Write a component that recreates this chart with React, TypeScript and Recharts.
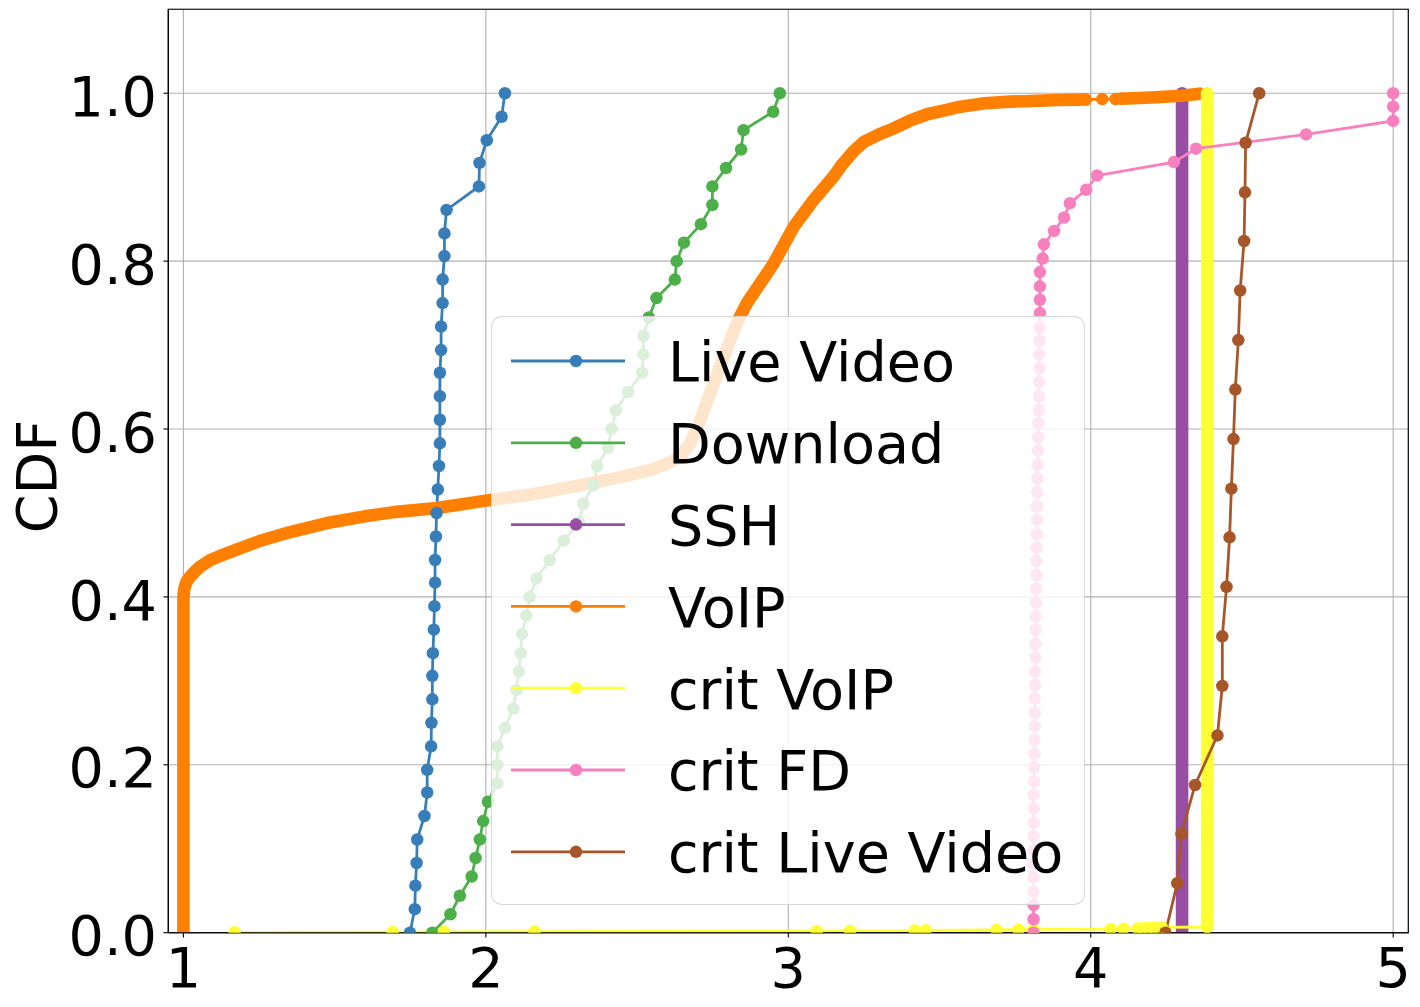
import React from 'react';
import { ComposedChart, Line, XAxis, YAxis, CartesianGrid, ReferenceArea } from 'recharts';

// ---------- axes ----------
const xTicks = [1, 2, 3, 4, 5];
const yTicks = [0, 0.2, 0.4, 0.6, 0.8, 1.0];
const yTickLabels = ['0.0', '0.2', '0.4', '0.6', '0.8', '1.0'];

// ---------- series names / colours ----------
const seriesNames = ['Live Video', 'Download', 'SSH', 'VoIP', 'crit VoIP', 'crit FD', 'crit Live Video'];
const seriesColors = ['#377eb8', '#4daf4a', '#984ea3', '#ff7f00', '#ffff33', '#f781bf', '#a65628'];

// ---------- Live Video ----------
const liveVideoX = [1.749, 1.765, 1.767, 1.771, 1.773, 1.797, 1.806, 1.806, 1.819, 1.820, 1.823, 1.823, 1.825,
  1.828, 1.830, 1.832, 1.832, 1.835, 1.837, 1.841, 1.845, 1.848, 1.848, 1.848, 1.848, 1.852, 1.852, 1.857,
  1.857, 1.863, 1.863, 1.870, 1.977, 1.979, 2.003, 2.052, 2.063];
const liveVideoY = [0, 0.028, 0.056, 0.083, 0.111, 0.139, 0.167, 0.194, 0.222, 0.25, 0.278, 0.306, 0.333,
  0.361, 0.389, 0.417, 0.444, 0.472, 0.5, 0.528, 0.556, 0.583, 0.611, 0.639, 0.667, 0.694, 0.722, 0.75,
  0.778, 0.806, 0.833, 0.861, 0.889, 0.917, 0.944, 0.972, 1.0];

// ---------- Download ----------
const downloadX = [1.823, 1.883, 1.914, 1.953, 1.966, 1.980, 1.991, 2.007, 2.038, 2.038, 2.038, 2.063, 2.091,
  2.101, 2.109, 2.115, 2.120, 2.134, 2.145, 2.167, 2.211, 2.258, 2.308, 2.322, 2.355, 2.368, 2.404, 2.416,
  2.430, 2.470, 2.517, 2.521, 2.521, 2.539, 2.564, 2.625, 2.631, 2.655, 2.711, 2.749, 2.749, 2.794, 2.844,
  2.852, 2.950, 2.972];
const downloadY = [0, 0.022, 0.044, 0.067, 0.089, 0.111, 0.133, 0.156, 0.178, 0.2, 0.222, 0.244, 0.267,
  0.289, 0.311, 0.333, 0.356, 0.378, 0.4, 0.422, 0.444, 0.467, 0.489, 0.511, 0.533, 0.556, 0.578, 0.6,
  0.622, 0.644, 0.667, 0.689, 0.711, 0.733, 0.756, 0.778, 0.8, 0.822, 0.844, 0.867, 0.889, 0.911, 0.933,
  0.956, 0.978, 1.0];

// ---------- SSH (dense markers, drawn as a solid bar) ----------
const sshX = [4.302, 4.302];
const sshY = [0, 1.0];

// ---------- VoIP (dense) ----------
const voipBandX = [1.0, 1.0, 1.003, 1.01, 1.022, 1.04, 1.055, 1.089, 1.13, 1.18, 1.255, 1.35, 1.475, 1.6, 1.696,
  1.839, 2.005, 2.15, 2.312, 2.45, 2.55, 2.6, 2.64, 2.676, 2.709, 2.753, 2.808, 2.835, 2.863, 2.951, 3.018,
  3.084, 3.150, 3.18, 3.216, 3.25, 3.30, 3.348, 3.40, 3.459, 3.52, 3.569, 3.65, 3.734, 3.899, 3.983];
const voipBandY = [0, 0.40, 0.41, 0.418, 0.424, 0.431, 0.436, 0.444, 0.45, 0.457, 0.467, 0.477, 0.488, 0.496, 0.501,
  0.506, 0.515, 0.522, 0.533, 0.543, 0.552, 0.559, 0.566, 0.583, 0.611, 0.654, 0.706, 0.73, 0.750, 0.797, 0.841,
  0.873, 0.901, 0.916, 0.931, 0.942, 0.951, 0.958, 0.967, 0.975, 0.980, 0.984, 0.988, 0.990, 0.992, 0.9925];
const voipSparseX = [3.983, 4.038, 4.082, 4.10];
const voipSparseY = [0.9925, 0.993, 0.993, 0.9935];
const voipTailX = [4.10, 4.2, 4.3, 4.36];
const voipTailY = [0.9935, 0.995, 0.997, 0.9995];

// ---------- crit VoIP ----------
const critVoipX = [1.169, 1.692, 1.861, 2.161, 3.094, 3.204, 3.418, 3.454, 3.689, 3.761, 3.811, 4.066, 4.108,
  4.155, 4.17, 4.19, 4.21, 4.235, 4.385];
const critVoipY = [0.0004, 0.0007, 0.0011, 0.0014, 0.0018, 0.0021, 0.0025, 0.0029, 0.0032, 0.0036, 0.0039,
  0.0043, 0.0046, 0.005, 0.0054, 0.0057, 0.0061, 0.0064, 0.0068];
const critVoipBarX = [4.385, 4.385];
const critVoipBarY = [0.0068, 1.0];

// ---------- crit FD ----------
const critFdX = [3.811, 3.811, 3.811, 3.811, 3.811, 3.811, 3.811, 3.811, 3.811, 3.811, 3.811,
  3.813, 3.813, 3.814, 3.814, 3.815, 3.815, 3.815, 3.816, 3.816, 3.817,
  3.817, 3.818, 3.818, 3.819, 3.819, 3.820, 3.820, 3.821, 3.821, 3.822,
  3.822, 3.823, 3.823, 3.824, 3.825, 3.826, 3.827, 3.828, 3.829, 3.829,
  3.830, 3.830, 3.831, 3.831, 3.832, 3.832, 3.832, 3.832, 3.841, 3.845,
  3.879, 3.912, 3.931, 3.985, 4.021, 4.275, 4.348, 4.712, 5.0, 5.0, 5.0];
const critFdY = [0, 0.016, 0.033, 0.049, 0.066, 0.082, 0.098, 0.115, 0.131, 0.148,
  0.164, 0.180, 0.197, 0.213, 0.230, 0.246, 0.262, 0.279, 0.295, 0.311,
  0.328, 0.344, 0.361, 0.377, 0.393, 0.410, 0.426, 0.443, 0.459, 0.475,
  0.492, 0.508, 0.525, 0.541, 0.557, 0.574, 0.590, 0.607, 0.623, 0.639,
  0.656, 0.672, 0.689, 0.705, 0.721, 0.738, 0.754, 0.770, 0.787, 0.803,
  0.820, 0.836, 0.852, 0.869, 0.885, 0.902, 0.918, 0.934, 0.951, 0.967, 0.984, 1.0];

// ---------- crit Live Video ----------
const critLiveX = [4.247, 4.286, 4.300, 4.345, 4.419, 4.435, 4.435, 4.449, 4.459, 4.465, 4.472, 4.478, 4.488,
  4.494, 4.507, 4.510, 4.512, 4.557];
const critLiveY = [0, 0.059, 0.118, 0.176, 0.235, 0.294, 0.353, 0.412, 0.471, 0.529, 0.588, 0.647, 0.706,
  0.765, 0.824, 0.882, 0.941, 1.0];

const zip = (xs: number[], ys: number[]) => xs.map((x, i) => ({ x, y: ys[i] }));

const FONT = 'DejaVu Sans';
const FS = 55.6;
const LW = 2.78;
const MR = 6.25;
const BAND = 12.6;

const W = 1412;
const H = 999;

const XTick = (props: any) => {
  const { x, y, payload } = props;
  return (
    <text x={x} y={y + 44.8} textAnchor="middle" fontFamily={FONT} fontSize={FS} fill="#000">
      {String(payload.value)}
    </text>
  );
};

const YTick = (props: any) => {
  const { x, y, payload } = props;
  const idx = yTicks.indexOf(payload.value);
  return (
    <text x={x} y={y + 22.6} textAnchor="end" fontFamily={FONT} fontSize={FS} fill="#000">
      {idx >= 0 ? yTickLabels[idx] : String(payload.value)}
    </text>
  );
};

const thinLine = (key: string, data: any[], color: string) => (
  <Line
    key={key}
    data={data}
    dataKey="y"
    type="linear"
    stroke={color}
    strokeWidth={LW}
    dot={{ r: MR, fill: color, stroke: 'none' }}
    activeDot={false}
    isAnimationActive={false}
    legendType="none"
  />
);

const bandLine = (key: string, data: any[], color: string) => (
  <Line
    key={key}
    data={data}
    dataKey="y"
    type="linear"
    stroke={color}
    strokeWidth={BAND}
    strokeLinecap="round"
    strokeLinejoin="round"
    dot={false}
    activeDot={false}
    isAnimationActive={false}
    legendType="none"
  />
);

const Legend = () => {
  const left = 483;
  const top = 308;
  const w = 594;
  const h = 589;
  return (
    <div
      style={{
        position: 'absolute',
        left,
        top,
        width: w,
        height: h,
        boxSizing: 'border-box',
        border: '1.2px solid rgba(204,204,204,0.8)',
        borderRadius: 11,
        background: 'rgba(255,255,255,0.8)',
      }}
    >
      <svg width={w} height={h} style={{ position: 'absolute', left: -1.2, top: -1.2 }}>
        {seriesNames.map((name, i) => {
          const cy = 45 + i * 81.8;
          return (
            <g key={name}>
              <line x1={20} x2={134} y1={cy} y2={cy} stroke={seriesColors[i]} strokeWidth={LW} />
              <circle cx={85} cy={cy} r={MR} fill={seriesColors[i]} />
              <text x={177} y={cy + 20.3} fontFamily={FONT} fontSize={FS} fill="#000">
                {name}
              </text>
            </g>
          );
        })}
      </svg>
    </div>
  );
};

export default function App() {
  return (
    <div style={{ position: 'relative', width: W, height: H, background: '#fff' }}>
      <ComposedChart width={W} height={H} margin={{ top: 1.3, right: 11.7, bottom: 0, left: 0 }}>
        <CartesianGrid stroke="#b0b0b0" strokeWidth={1.1} />
        <XAxis
          dataKey="x"
          type="number"
          domain={[0.95, 5.05]}
          ticks={xTicks}
          allowDataOverflow
          height={74.3}
          tickSize={4.9}
          tickMargin={4.9}
          tick={<XTick />}
          axisLine={{ stroke: '#000', strokeWidth: 1.1 }}
          tickLine={{ stroke: '#000', strokeWidth: 1.1 }}
          interval={0}
        />
        <YAxis
          type="number"
          domain={[0, 1.1]}
          ticks={yTicks}
          allowDataOverflow
          width={160.3}
          tickSize={4.9}
          tickMargin={6.4}
          tick={<YTick />}
          axisLine={{ stroke: '#000', strokeWidth: 1.1 }}
          tickLine={{ stroke: '#000', strokeWidth: 1.1 }}
          interval={0}
          label={{
            content: () => (
              <text
                x={48}
                y={468.5}
                transform="rotate(-90, 48, 468.5)"
                textAnchor="middle"
                fontFamily={FONT}
                fontSize={FS}
                fill="#000"
              >
                CDF
              </text>
            ),
          }}
        />
        {thinLine('live', zip(liveVideoX, liveVideoY), seriesColors[0])}
        {thinLine('download', zip(downloadX, downloadY), seriesColors[1])}
        {bandLine('ssh', zip(sshX, sshY), seriesColors[2])}
        {bandLine('voip1', zip(voipBandX, voipBandY), seriesColors[3])}
        {thinLine('voip2', zip(voipSparseX, voipSparseY), seriesColors[3])}
        {bandLine('voip3', zip(voipTailX, voipTailY), seriesColors[3])}
        {thinLine('critvoip1', zip(critVoipX, critVoipY), seriesColors[4])}
        {bandLine('critvoip2', zip(critVoipBarX, critVoipBarY), seriesColors[4])}
        {thinLine('critfd', zip(critFdX, critFdY), seriesColors[5])}
        {thinLine('critlive', zip(critLiveX, critLiveY), seriesColors[6])}
        <ReferenceArea x1={0.95} x2={5.05} y1={0} y2={1.1} fill="none" stroke="#000" strokeWidth={1.1} />
      </ComposedChart>
      <Legend />
    </div>
  );
}
